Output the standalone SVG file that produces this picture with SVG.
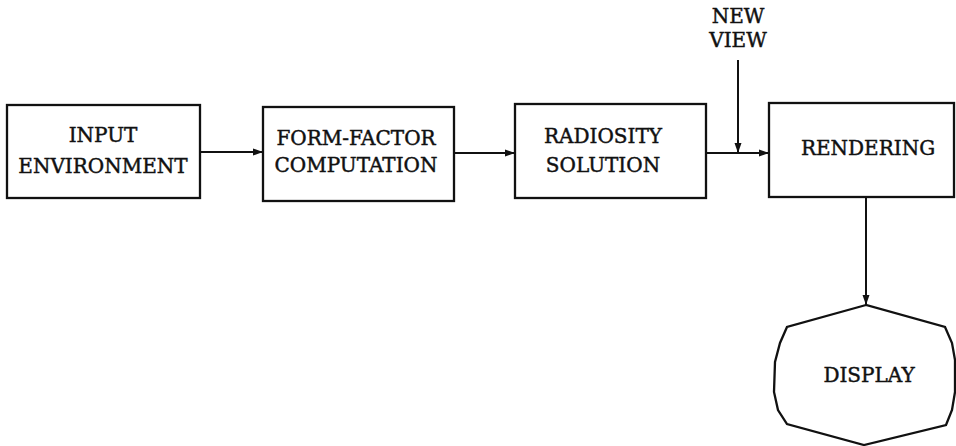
<svg xmlns="http://www.w3.org/2000/svg" width="956" height="446" viewBox="0 0 956 446">
<style>
.box{fill:#fff;stroke:#111;stroke-width:2.3}
.t{font-family:"DejaVu Serif","Liberation Serif",serif;font-size:20px;fill:#111;stroke:#111;stroke-width:0.45;text-anchor:middle}
.c{stroke:#111;stroke-width:2;fill:none}
</style>
<defs>
<marker id="ah" viewBox="0 0 10 8" refX="10" refY="4" markerWidth="10" markerHeight="8" markerUnits="userSpaceOnUse" orient="auto">
<path d="M0,0.5 L10,4 L0,7.5 Z" fill="#111"/>
</marker>
</defs>
<rect width="956" height="446" fill="#fff"/>
<g id="connectors">
<line class="c" x1="200" y1="152" x2="263" y2="152" marker-end="url(#ah)"/>
<line class="c" x1="454" y1="153" x2="515" y2="153" marker-end="url(#ah)"/>
<line class="c" x1="706" y1="153" x2="769" y2="153" marker-end="url(#ah)"/>
<line class="c" x1="738" y1="60" x2="738" y2="153" marker-end="url(#ah)"/>
<line class="c" x1="866" y1="197" x2="866" y2="305" marker-end="url(#ah)"/>
</g>
<g id="input">
<rect class="box" x="7" y="105" width="193" height="93"/>
<text class="t" x="103" y="142">INPUT</text>
<text class="t" x="103" y="173">ENVIRONMENT</text>
</g>
<g id="formfactor">
<rect class="box" x="263" y="107" width="191" height="94"/>
<text class="t" x="356" y="145">FORM-FACTOR</text>
<text class="t" x="356" y="172">COMPUTATION</text>
</g>
<g id="radiosity">
<rect class="box" x="515" y="104" width="191" height="94"/>
<text class="t" x="603" y="143">RADIOSITY</text>
<text class="t" x="603" y="172">SOLUTION</text>
</g>
<g id="newview">
<text class="t" x="738" y="23">NEW</text>
<text class="t" x="738" y="47">VIEW</text>
</g>
<g id="rendering">
<rect class="box" x="769" y="103" width="185" height="94"/>
<text class="t" x="868" y="155">RENDERING</text>
</g>
<g id="display">
<polygon class="box" points="866,305 787,327 780,343 775,362 774,392 778,410 787,424 864,445 946,425 952,410 955,392 955,360 952,343 945,327"/>
<text class="t" x="869" y="382">DISPLAY</text>
</g>
</svg>
